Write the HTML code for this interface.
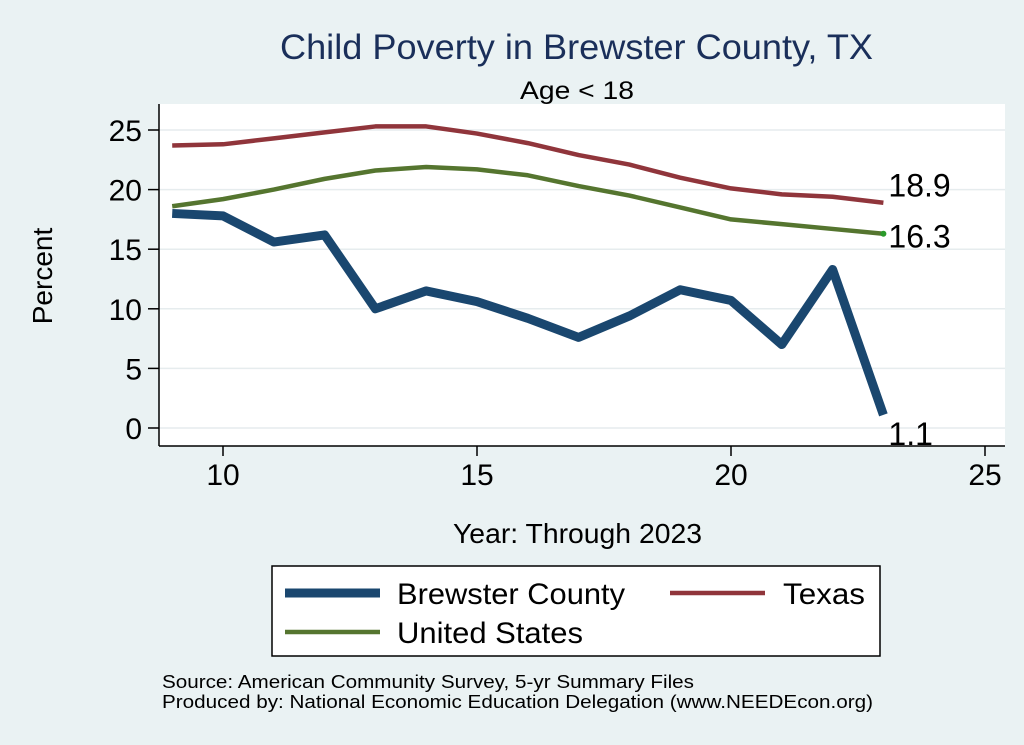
<!DOCTYPE html>
<html><head><meta charset="utf-8"><style>
html,body{margin:0;padding:0;background:#eaf2f3;}
svg{display:block;font-family:"Liberation Sans",Arial,sans-serif;}
</style></head><body>
<svg width="1024" height="745" viewBox="0 0 1024 745">
<rect x="0" y="0" width="1024" height="745" fill="#eaf2f3"/>
<text x="280" y="59" font-size="35" fill="#1a2f5a" textLength="593" lengthAdjust="spacingAndGlyphs">Child Poverty in Brewster County, TX</text>
<text x="520" y="99" font-size="25" fill="#000" textLength="114" lengthAdjust="spacingAndGlyphs">Age &lt; 18</text>
<rect x="159" y="104" width="846" height="342" fill="#fff"/>
<g id="grid"></g>
<g id="axes"></g>
<g id="series"></g>
<text x="52" y="276" font-size="28" text-anchor="middle" transform="rotate(-90 52 276)">Percent</text>
<text x="453" y="543" font-size="28" textLength="249" lengthAdjust="spacingAndGlyphs">Year: Through 2023</text>
<g>
<rect x="272" y="566" width="608" height="90" fill="#fff" stroke="#000" stroke-width="1.5"/>
<line x1="285" y1="593" x2="380" y2="593" stroke="#1a476f" stroke-width="9"/>
<text x="397" y="604" font-size="30" textLength="228" lengthAdjust="spacingAndGlyphs">Brewster County</text>
<line x1="670" y1="593" x2="765" y2="593" stroke="#90353b" stroke-width="4.5"/>
<text x="783" y="604" font-size="30" textLength="82" lengthAdjust="spacingAndGlyphs">Texas</text>
<line x1="285" y1="632" x2="380" y2="632" stroke="#55752f" stroke-width="4.5"/>
<text x="397" y="643" font-size="30" textLength="186" lengthAdjust="spacingAndGlyphs">United States</text>
</g>
<text x="162" y="688" font-size="18" textLength="532" lengthAdjust="spacingAndGlyphs">Source: American Community Survey, 5-yr Summary Files</text>
<text x="162" y="708" font-size="18" textLength="711" lengthAdjust="spacingAndGlyphs">Produced by: National Economic Education Delegation (www.NEEDEcon.org)</text>
</svg>
<script>
const years=[9,10,11,12,13,14,15,16,17,18,19,20,21,22,23];
const brewster=[18.0,17.8,15.6,16.2,10.0,11.5,10.6,9.2,7.6,9.4,11.6,10.7,7.0,13.3,1.1];
const texas=[23.7,23.8,24.3,24.8,25.3,25.3,24.7,23.9,22.9,22.1,21.0,20.1,19.6,19.4,18.9];
const us=[18.6,19.2,20.0,20.9,21.6,21.9,21.7,21.2,20.3,19.5,18.5,17.5,17.1,16.7,16.3];
const yTicks=[0,5,10,15,20,25];
const xTicks=[10,15,20,25];
const NS="http://www.w3.org/2000/svg";
const X=v=>223+(v-10)*50.8;
const Y=v=>428-v*11.92;
function mk(tag,attrs,parent){const e=document.createElementNS(NS,tag);for(const k in attrs)e.setAttribute(k,attrs[k]);parent.appendChild(e);return e;}
const grid=document.getElementById('grid'),axes=document.getElementById('axes'),ser=document.getElementById('series');
yTicks.forEach(t=>{
 const g=mk('line',{x1:159,x2:1005,y1:Y(t),y2:Y(t),stroke:'#e6ecee','stroke-width':1.5},grid);
 
 
 mk('line',{x1:148,x2:159,y1:Y(t),y2:Y(t),stroke:'#000','stroke-width':1.5},axes);
 const tx=mk('text',{x:142,y:Y(t)+11,'font-size':30,'text-anchor':'end'},axes);tx.textContent=t;
 
 
});
mk('line',{x1:159,x2:159,y1:104,y2:446,stroke:'#000','stroke-width':1.5},axes);
mk('line',{x1:159,x2:1005,y1:446,y2:446,stroke:'#000','stroke-width':1.5},axes);
xTicks.forEach(t=>{
 mk('line',{x1:X(t),x2:X(t),y1:446,y2:456,stroke:'#000','stroke-width':1.5},axes);
 const tx=mk('text',{x:X(t),y:485,'font-size':30,'text-anchor':'middle'},axes);tx.textContent=t;
 
 
});
function line(vals,color,w,name){
 const p=mk('polyline',{points:vals.map((v,i)=>X(years[i])+','+Y(v)).join(' '),fill:'none',stroke:color,'stroke-width':w,'stroke-linejoin':'round'},ser);
 
 
}
line(texas,'#90353b',4.5,'line-texas');
line(us,'#55752f',4.5,'line-us');
line(brewster,'#1a476f',9,'line-brewster');
const last=years.length-1;
const dot=mk('circle',{cx:X(years[last]),cy:Y(us[last]),r:3,fill:'#2a9a2a'},ser);


[[texas,'label-texas-last',-6],[us,'label-us-last',14],[brewster,'label-brewster-last',30]].forEach(([s,n,off])=>{
 const tx=mk('text',{x:X(years[last])+5,y:Y(s[last])+off,'font-size':32},ser);
 tx.textContent=s[last].toFixed(1);
 
 
});
</script>
</body></html>
